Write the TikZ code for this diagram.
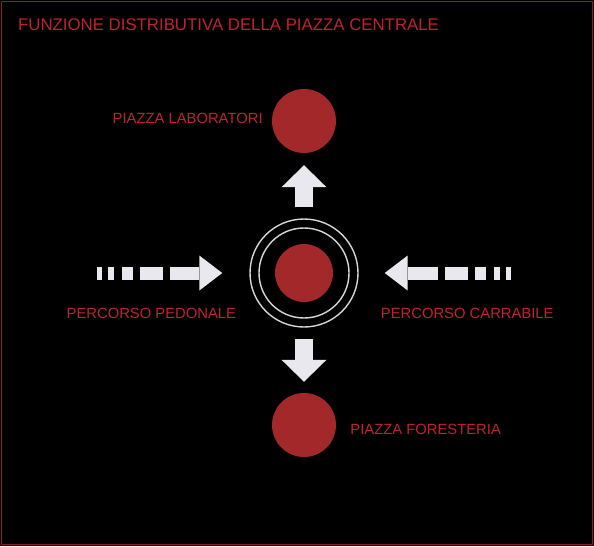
\documentclass[tikz,border=0pt]{standalone}
\usepackage{fontspec}
\setmainfont{Liberation Sans}
\usetikzlibrary{positioning,arrows.meta}
\definecolor{piazzared}{RGB}{163,40,42}
\definecolor{labelred}{RGB}{190,36,46}
\definecolor{arrowgrey}{RGB}{232,232,238}
\definecolor{ringgrey}{RGB}{215,215,218}
\definecolor{borderred}{RGB}{140,30,34}

\begin{document}
\begin{tikzpicture}[x=1pt, y=-1pt, node distance=152pt,
    piazza node/.style={circle, fill=piazzared, minimum size=64pt, inner sep=0pt},
    ring node/.style={circle, draw=ringgrey, line width=1.4pt, inner sep=0pt},
    label node/.style={text=labelred, font=\fontsize{14.8}{16}\selectfont, inner sep=0pt},
    flow arrow/.style={draw=arrowgrey, line width=18pt, -{Triangle[width=45pt, length=22pt, line width=0pt]}, fill=arrowgrey},
    path arrow/.style={draw=arrowgrey, line width=13pt, -{Triangle[width=35pt, length=23pt, line width=0pt]},
        dash pattern=on 5pt off 6pt on 6pt off 8pt on 11pt off 7pt on 23pt off 7pt on 300pt}]

    \useasboundingbox (0,0) rectangle (594,546);
    \fill[black] (0,0) rectangle (594,546);
    \draw[borderred, line width=1.5pt] (1.5,1.5) rectangle (592.5,544.5);

    \node[label node, anchor=west, font=\fontsize{16.8}{20}\selectfont] (title) at (18,25) {FUNZIONE DISTRIBUTIVA DELLA PIAZZA CENTRALE};

    \node[ring node, minimum size=108pt] (ring) at (304,273) {};
    \node[ring node, minimum size=90pt] (inner) at (ring) {};
    \node[piazza node, minimum size=58pt] (centrale) at (ring) {};
    \node[piazza node] (lab) [above of = ring] {};
    \node[piazza node] (for) [below of = ring] {};

    \node[label node, left=9pt of lab, yshift=3pt] (labtext) {PIAZZA LABORATORI};
    \node[label node, right=14pt of for, yshift=-4pt] (fortext) {PIAZZA FORESTERIA};
    \node[label node, left=13pt of ring.west, yshift=-40pt] (pedtext) {PERCORSO PEDONALE};
    \node[label node, right=22pt of ring.east, yshift=-40pt] (cartext) {PERCORSO CARRABILE};

    \coordinate (pedstart) at (97,273);
    \coordinate (carstart) at (511,273);

    \draw[flow arrow, shorten <=11pt, shorten >=12pt] (ring) -- (lab);
    \draw[flow arrow, shorten <=11pt, shorten >=11pt] (ring) -- (for);
    \draw[path arrow, shorten >=27pt] (pedstart) -- (ring);
    \draw[path arrow, shorten >=26pt] (carstart) -- (ring);
\end{tikzpicture}
\end{document}
